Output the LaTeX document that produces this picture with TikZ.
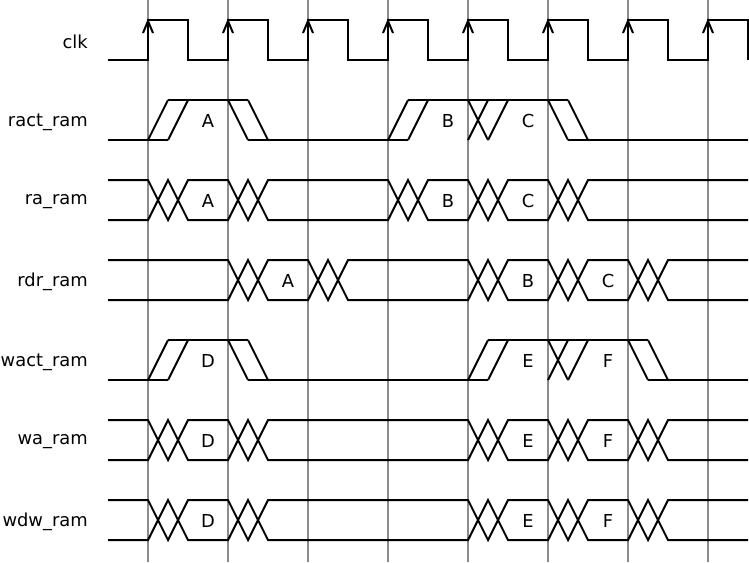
\documentclass[tikz,border=0pt]{standalone}
\usepackage{fontspec}
\setmainfont{DejaVu Sans}
\usepackage{tikz}
\usetikzlibrary{positioning}
\definecolor{gridgray}{RGB}{140, 140, 140}

\begin{document}
\begin{tikzpicture}[x=0.75pt, y=-0.75pt,
  sig/.style={black, line width=1.5pt},
  tick/.style={gridgray, line width=1.5pt},
  lbl/.style={font=\fontsize{13.4}{16}\selectfont, anchor=east, inner sep=0pt},
  val/.style={font=\fontsize{13.4}{16}\selectfont, inner sep=0pt}]

\useasboundingbox (0,0) rectangle (749,562);

% Taktgitter
\foreach \x in {148,228,...,708} {
  \draw[tick] (\x,0) -- (\x,562);
}

% Signalnamen
\node[lbl] (nclk)  at (88,42)  {clk};
\node[lbl] (nract) at (88,122) {ract\_ram};
\node[lbl] (nra)   at (88,202) {ra\_ram};
\node[lbl] (nrdr)  at (88,282) {rdr\_ram};
\node[lbl] (nwact) at (88,362) {wact\_ram};
\node[lbl] (nwa)   at (88,442) {wa\_ram};
\node[lbl] (nwdw)  at (88,522) {wdw\_ram};

% Takt mit Pfeilen an steigenden Flanken
\draw[sig] (108,60) \foreach \x in {148,228,...,708} {
  -- (\x,60) -- (\x,20) -- (\x+40,20) -- (\x+40,60)};
\foreach \x in {148,228,...,708} {
  \draw[sig] (\x-5,33) -- (\x,21) -- (\x+5,33);
}

% ract_ram
\draw[sig] (108,140) -- (168,140) (248,140) -- (408,140) (568,140) -- (748,140);
\draw[sig] (168,100) -- (248,100) (408,100) -- (568,100);
\draw[sig] (148,140) -- (168,100) (168,140) -- (188,100);
\draw[sig] (228,100) -- (248,140) (248,100) -- (268,140);
\draw[sig] (388,140) -- (408,100) (408,140) -- (428,100);
\draw[sig] (468,100) -- (488,140) (468,140) -- (488,100) (488,140) -- (508,100);
\draw[sig] (548,100) -- (568,140) (568,100) -- (588,140);
\node[val] (ractA) at (208,121) {A};
\node[val] (ractB) at (448,121) {B};
\node[val] (ractC) at (528,121) {C};

% ra_ram
\draw[sig] (108,180) \foreach \x in {148,228,388,468,548} {
  -- (\x,180) -- (\x+20,220) -- (\x+40,180)} -- (748,180);
\draw[sig] (108,220) \foreach \x in {148,228,388,468,548} {
  -- (\x,220) -- (\x+20,180) -- (\x+40,220)} -- (748,220);
\node[val] (raA) at (208,201) {A};
\node[val] (raB) at (448,201) {B};
\node[val] (raC) at (528,201) {C};

% rdr_ram
\draw[sig] (108,260) \foreach \x in {228,308,468,548,628} {
  -- (\x,260) -- (\x+20,300) -- (\x+40,260)} -- (748,260);
\draw[sig] (108,300) \foreach \x in {228,308,468,548,628} {
  -- (\x,300) -- (\x+20,260) -- (\x+40,300)} -- (748,300);
\node[val] (rdrA) at (288,281) {A};
\node[val] (rdrB) at (528,281) {B};
\node[val] (rdrC) at (608,281) {C};

% wact_ram
\draw[sig] (108,380) -- (168,380) (248,380) -- (488,380) (648,380) -- (748,380);
\draw[sig] (168,340) -- (248,340) (488,340) -- (648,340);
\draw[sig] (148,380) -- (168,340) (168,380) -- (188,340);
\draw[sig] (228,340) -- (248,380) (248,340) -- (268,380);
\draw[sig] (468,380) -- (488,340) (488,380) -- (508,340);
\draw[sig] (548,340) -- (568,380) (548,380) -- (568,340) (568,380) -- (588,340);
\draw[sig] (628,340) -- (648,380) (648,340) -- (668,380);
\node[val] (wactD) at (208,361) {D};
\node[val] (wactE) at (528,361) {E};
\node[val] (wactF) at (608,361) {F};

% wa_ram und wdw_ram
\foreach \t/\n in {420/wa, 500/wdw} {
  \draw[sig] (108,\t) \foreach \x in {148,228,468,548,628} {
    -- (\x,\t) -- (\x+20,\t+40) -- (\x+40,\t)} -- (748,\t);
  \draw[sig] (108,\t+40) \foreach \x in {148,228,468,548,628} {
    -- (\x,\t+40) -- (\x+20,\t) -- (\x+40,\t+40)} -- (748,\t+40);
  \node[val] (\n D) at (208,\t+21) {D};
  \node[val] (\n E) at (528,\t+21) {E};
  \node[val] (\n F) at (608,\t+21) {F};
}

\end{tikzpicture}
\end{document}
